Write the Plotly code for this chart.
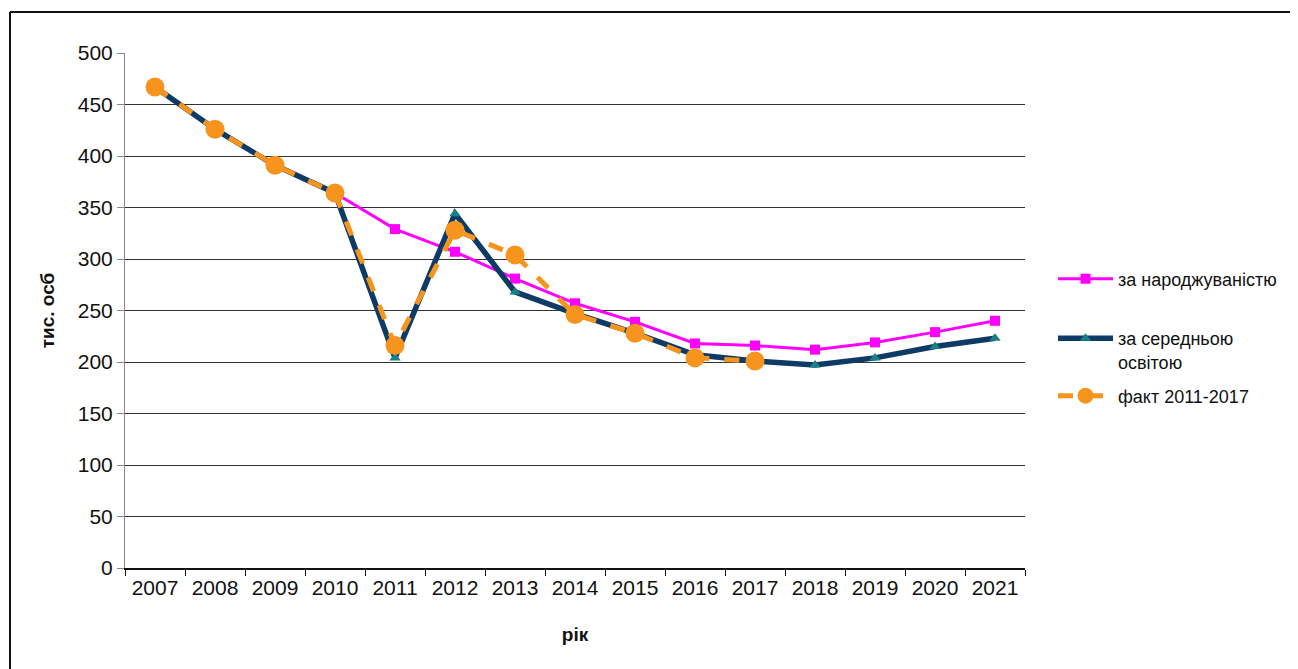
import plotly.graph_objects as go

years = ["2007", "2008", "2009", "2010", "2011", "2012", "2013", "2014",
         "2015", "2016", "2017", "2018", "2019", "2020", "2021"]
birth = [467, 426, 391, 364, 329, 307, 281, 257, 239, 218, 216, 212, 219, 229, 240]
secondary = [467, 426, 391, 364, 204, 344, 268, 247, 228, 207, 201, 197, 204, 215, 223]
fact_years = ["2007", "2008", "2009", "2010", "2011", "2012", "2013", "2014",
              "2015", "2016", "2017"]
fact = [467, 426, 391, 364, 216, 328, 304, 246, 228, 204, 201]

W, H = 1298, 669
OFF = 8  # default page body margin
L, R, T, B = 125, 1025, 53, 568


def px(x):
    return (x - L) / (R - L)


def py(y):
    return (B - y) / (B - T)


FONT = "Liberation Sans, Arial, sans-serif"

fig = go.Figure()
fig.add_trace(go.Scatter(
    x=years, y=birth, name="за народжуваністю", mode="lines+markers",
    line=dict(color="#FF00FF", width=3),
    marker=dict(symbol="square", size=10, color="#FF00FF"),
    legend="legend"))
fig.add_trace(go.Scatter(
    x=years, y=secondary, name="за середньою<br>освітою", mode="lines+markers",
    line=dict(color="#0D3B66", width=5.5),
    marker=dict(symbol="triangle-up", size=10, color="#1B7F86"),
    legend="legend2"))
fig.add_trace(go.Scatter(
    x=fact_years, y=fact, name="факт 2011-2017", mode="lines+markers",
    line=dict(color="#F7941D", width=5, dash="dash"),
    marker=dict(symbol="circle", size=19, color="#F7941D"),
    legend="legend3"))

leg_common = dict(font=dict(family=FONT, size=18, color="#111"),
                  bgcolor="rgba(0,0,0,0)", itemwidth=55,
                  xanchor="left", yanchor="middle", valign="top")

fig.update_layout(
    width=W - OFF, height=H - OFF,
    margin=dict(l=L - OFF, r=W - R, t=T - OFF, b=H - B, pad=0, autoexpand=False),
    paper_bgcolor="white", plot_bgcolor="white",
    font=dict(family=FONT, size=21, color="#111"),
    xaxis=dict(type="category", tickson="boundaries", ticks="outside",
               range=[-0.5, len(years) - 0.5],
               ticklen=6, tickcolor="#111", showline=True, linecolor="#111",
               linewidth=1.5, showgrid=False,
               tickfont=dict(family=FONT, size=21, color="#111"),
               title=dict(text="<b>рік</b>", font=dict(family=FONT, size=19),
                          standoff=30)),
    yaxis=dict(range=[0, 500], dtick=50, ticks="outside", ticklen=7,
               tickcolor="#888", showline=True, linecolor="#888",
               showgrid=True, gridcolor="#333", gridwidth=1, zeroline=False,
               tickfont=dict(family=FONT, size=21, color="#111"),
               title=dict(text="<b>тис. осб</b>", font=dict(family=FONT, size=19),
                          standoff=18)),
    legend=dict(x=px(1053), y=py(279), **leg_common),
    legend2=dict(x=px(1053), y=py(350), **leg_common),
    legend3=dict(x=px(1053), y=py(396), **leg_common),
    showlegend=True,
)

fig.add_shape(type="line", xref="paper", yref="paper",
              x0=px(10), x1=px(1298), y0=py(12), y1=py(12),
              line=dict(color="#111", width=2))
fig.add_shape(type="line", xref="paper", yref="paper",
              x0=px(10), x1=px(10), y0=py(12), y1=py(669),
              line=dict(color="#111", width=2))

fig.write_html("out.html")
